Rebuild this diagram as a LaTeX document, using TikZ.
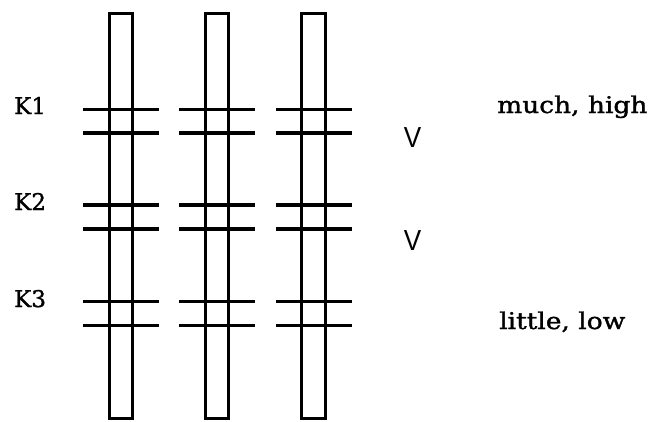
\documentclass[tikz,border=0pt]{standalone}
\usepackage{fontspec}
\setmainfont[FakeBold=1.2]{DejaVu Serif}
\newfontfamily\vfont{Liberation Sans}
\begin{document}
\begin{tikzpicture}[x=1pt,y=-1pt,
  rod/.style={draw=black,line width=3pt},
  bar/.style={draw=black,line width=3.4pt},
  lbl/.style={inner sep=0pt,anchor=base west,font=\fontsize{23}{23}\selectfont},
  vee/.style={inner sep=0pt,anchor=center,font=\vfont\fontsize{29}{29}\selectfont}]
\useasboundingbox (0,0) rectangle (650,421);
% rods
\foreach \xl/\xr/\n in {109/132/a,205/228/b,301/325.5/c}{
  \draw[rod] (\xl,13.5) rectangle (\xr,418.5);
}
% bars
\foreach \xa/\xb in {83/159,179/255,276/352}{
  \foreach \y in {109.5,133,205,229,301.5,325.5}{
    \draw[bar] (\xa,\y) -- (\xb,\y);
  }
}
\node[lbl] (k1) at (14,114) {K1};
\node[lbl] (k2) at (14,210) {K2};
\node[lbl] (k3) at (14,307) {K3};
\node[vee] (v1) at (412.5,138) {\scalebox{0.9}[1]{V}};
\node[vee] (v2) at (412.5,241) {\scalebox{0.9}[1]{V}};
\node[lbl] (hi) at (497,113) {\scalebox{1.15}[1]{much, high}};
\node[lbl] (lo) at (499,329) {\scalebox{1.15}[1]{little,\ low}};
\end{tikzpicture}
\end{document}
